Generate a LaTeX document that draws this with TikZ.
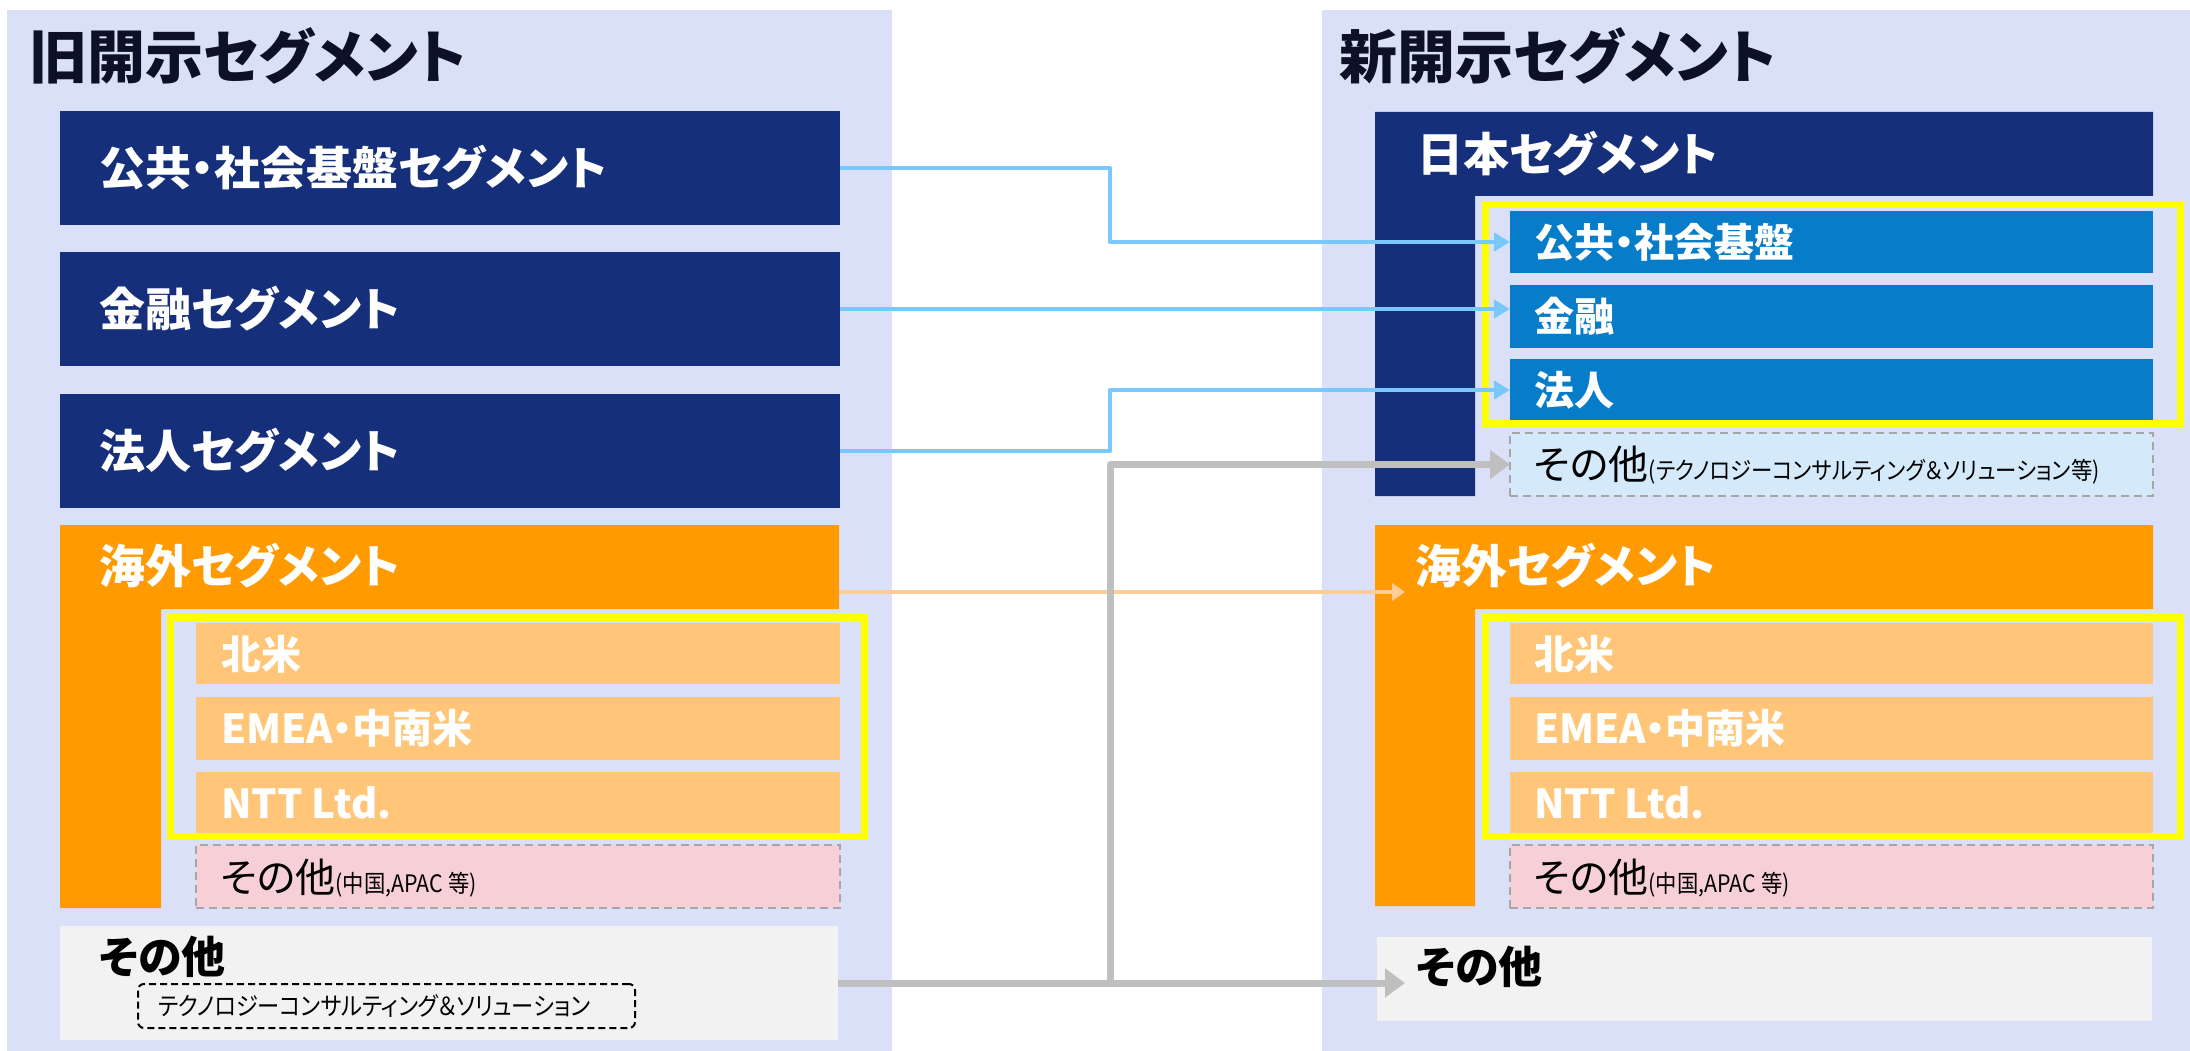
\documentclass[tikz,border=0pt]{standalone}
\usepackage{fontspec}
\setmainfont{Noto Sans CJK JP}[RawFeature={+palt}]
\newfontfamily\jpcond{Noto Sans CJK JP}[RawFeature={+palt}, FakeStretch=0.89]
\usetikzlibrary{arrows.meta}
\definecolor{panel}{HTML}{D9E0F7}
\definecolor{navy}{HTML}{162F7B}
\definecolor{blu}{HTML}{077CC9}
\definecolor{org}{HTML}{FF9A00}
\definecolor{lorg}{HTML}{FFC679}
\definecolor{pinkc}{HTML}{F6D0D6}
\definecolor{lgray}{HTML}{F2F2F2}
\definecolor{lblue}{HTML}{D4EAFB}
\definecolor{ylw}{HTML}{FFFF00}
\definecolor{arrblue}{HTML}{78C8FB}
\definecolor{arrorg}{HTML}{FFCC99}
\definecolor{arrgray}{HTML}{BFBFBF}
\definecolor{dashgray}{HTML}{A6A6A6}
\definecolor{titlec}{HTML}{0C1128}
\newcommand\fsz[1]{\fontsize{#1}{#1}\selectfont}
\tikzset{
  rect/.style={rectangle, inner sep=0pt, outer sep=0pt, anchor=north west},
  txt/.style={inner sep=0pt, outer sep=0pt, anchor=west},
  ttl/.style={txt, text=titlec, font=\fsz{58}\bfseries},
  bigw/.style={txt, text=white, font=\fsz{46}\bfseries},
  smw/.style={txt, text=white, font=\fsz{40}\bfseries},
  othr/.style={txt, text=black, font=\fsz{40}},
  dashbox/.style={rect, draw=dashgray, dashed, dash pattern=on 8pt off 5pt, line width=2pt},
  frame/.style={draw=ylw, line width=7pt},
  bluearr/.style={draw=arrblue, line width=4pt, line join=round, -{Triangle[length=16pt,width=18pt]}},
  orarr/.style={draw=arrorg, line width=4pt, -{Triangle[length=13pt,width=17pt]}},
  grayarr/.style={draw=arrgray, line width=7pt, line join=round, -{Triangle[length=20pt,width=28pt]}},
}
\begin{document}
\begin{tikzpicture}[x=1pt,y=-1pt]
\useasboundingbox (0,0) rectangle (2190,1051);
% ---------- left panel ----------
\node[rect, fill=panel, minimum width=885pt, minimum height=1041pt] (panelL) at (7,10) {};
\node[ttl] (titleL) at (29,56) {旧開示セグメント};
\node[rect, fill=navy, minimum width=780pt, minimum height=114pt] (oldpub) at (60,111) {};
\node[bigw] (oldpubt) at (99,168) {公共・社会基盤セグメント};
\node[rect, fill=navy, minimum width=780pt, minimum height=114pt] (oldfin) at (60,252) {};
\node[bigw] (oldfint) at (99,309) {金融セグメント};
\node[rect, fill=navy, minimum width=780pt, minimum height=114pt] (oldcorp) at (60,394) {};
\node[bigw] (oldcorpt) at (99,451) {法人セグメント};
\fill[org] (60,525) -- (839,525) -- (839,609) -- (161,609) -- (161,908) -- (60,908) -- cycle;
\node[bigw] (oldovst) at (99,566) {海外セグメント};
\node[rect, fill=lorg, minimum width=644pt, minimum height=61pt] (oldna) at (196,623) {};
\node[smw] (oldnat) at (221,654) {北米};
\node[rect, fill=lorg, minimum width=644pt, minimum height=63pt] (oldemea) at (196,697) {};
\node[smw] (oldemeat) at (221,728) {EMEA・中南米};
\node[rect, fill=lorg, minimum width=644pt, minimum height=61pt] (oldntt) at (196,772) {};
\node[smw] (oldnttt) at (221,803) {NTT Ltd.};
\draw[frame] (170,617) rectangle (864,836);
\node[dashbox, fill=pinkc, minimum width=644pt, minimum height=63pt] (oldapac) at (196,845) {};
\node[othr] (oldapact) at (221,878) {その他{\jpcond\fsz{24}(中国,APAC 等)}};
\node[rect, fill=lgray, minimum width=778pt, minimum height=114pt] (oldother) at (60,926) {};
\node[txt, text=black, font=\fsz{44}\bfseries] (oldothert) at (99,957) {その他};
\node[rect, draw=black, dashed, dash pattern=on 7pt off 4pt, line width=2pt, rounded corners=6pt, minimum width=497pt, minimum height=44pt] (oldtech) at (138,984) {};
\node[txt, text=black, font=\jpcond\fsz{25}] (oldtecht) at (158,1006) {テクノロジーコンサルティング＆ソリューション};
% ---------- right panel ----------
\node[rect, fill=panel, minimum width=868pt, minimum height=1041pt] (panelR) at (1322,10) {};
\node[ttl] (titleR) at (1339,56) {新開示セグメント};
\fill[navy] (1375,112) -- (2153,112) -- (2153,196) -- (1475,196) -- (1475,496) -- (1375,496) -- cycle;
\node[bigw] (newjpt) at (1417,154) {日本セグメント};
\node[rect, fill=blu, minimum width=643pt, minimum height=62pt] (newpub) at (1510,211) {};
\node[smw] (newpubt) at (1534,242) {公共・社会基盤};
\node[rect, fill=blu, minimum width=643pt, minimum height=63pt] (newfin) at (1510,285) {};
\node[smw] (newfint) at (1534,316) {金融};
\node[rect, fill=blu, minimum width=643pt, minimum height=62pt] (newcorp) at (1510,359) {};
\node[smw] (newcorpt) at (1534,390) {法人};
\draw[frame] (1485,205) rectangle (2180,423);
\node[dashbox, fill=lblue, minimum width=643pt, minimum height=63pt] (newjpother) at (1510,433) {};
\node[othr] (newjpothert) at (1534,465) {その他{\jpcond\fsz{24}(テクノロジーコンサルティング＆ソリューション等)}};
\fill[org] (1375,525) -- (2153,525) -- (2153,609) -- (1475,609) -- (1475,906) -- (1375,906) -- cycle;
\node[bigw] (newovst) at (1415,566) {海外セグメント};
\node[rect, fill=lorg, minimum width=643pt, minimum height=61pt] (newna) at (1510,623) {};
\node[smw] (newnat) at (1534,654) {北米};
\node[rect, fill=lorg, minimum width=643pt, minimum height=63pt] (newemea) at (1510,697) {};
\node[smw] (newemeat) at (1534,728) {EMEA・中南米};
\node[rect, fill=lorg, minimum width=643pt, minimum height=61pt] (newntt) at (1510,772) {};
\node[smw] (newnttt) at (1534,803) {NTT Ltd.};
\draw[frame] (1485,617) rectangle (2180,836);
\node[dashbox, fill=pinkc, minimum width=643pt, minimum height=63pt] (newapac) at (1510,845) {};
\node[othr] (newapact) at (1534,878) {その他{\jpcond\fsz{24}(中国,APAC 等)}};
\node[rect, fill=lgray, minimum width=775pt, minimum height=84pt] (newother) at (1377,937) {};
\node[txt, text=black, font=\fsz{44}\bfseries] (newothert) at (1416,967) {その他};
% ---------- connectors ----------
\coordinate (ovsA) at (839,592);
\coordinate (ovsB) at (1405,592);
\coordinate (gj) at (1110,983);
\draw[bluearr] (oldpub.east) -- ++(270,0) |- (newpub.west);
\draw[bluearr] (oldfin.east) -- (newfin.west |- oldfin.east);
\draw[bluearr] (oldcorp.east) -- ++(270,0) |- (newcorp.west);
\draw[orarr] (ovsA) -- (ovsB);
\draw[grayarr] (gj) |- (newjpother.west);
\draw[grayarr] (oldother.east) -- (1405,983);
\end{tikzpicture}
\end{document}
